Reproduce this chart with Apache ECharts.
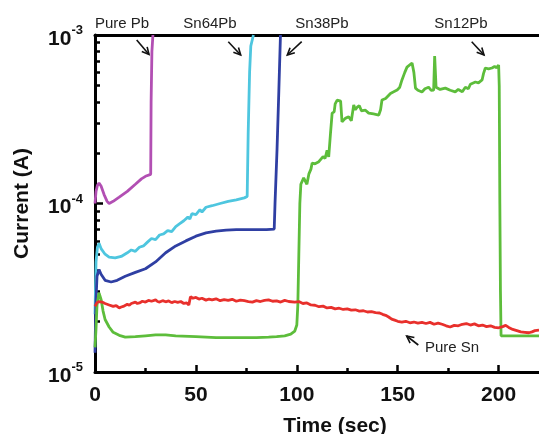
<!DOCTYPE html>
<html>
<head>
<meta charset="utf-8">
<script src="https://cdn.jsdelivr.net/npm/echarts@6/dist/echarts.min.js"></script>
<style>
html,body{margin:0;padding:0;background:#fff;}
#chart{width:539px;height:434px;}
</style>
</head>
<body>
<div id="chart"></div>
<script>
// ---- data: [time (sec), current (A)] ----
var purePb = [[0,1.0e-4],[0.5,1.18e-4],[1.2,1.28e-4],[2,1.32e-4],[3,1.27e-4],[4.5,1.13e-4],[6,1.03e-4],[7,1.0e-4],[9,1.03e-4],[12,1.09e-4],[16,1.18e-4],[20,1.30e-4],[23,1.40e-4],[25,1.45e-4],[27.6,1.49e-4],[27.8,4e-4],[28.2,8e-4],[28.7,1e-3]];

var sn64Pb = [[0,2.2e-5],[0.5,4.5e-5],[1.2,5.5e-5],[2,5.8e-5],[3,5.4e-5],[5,5.0e-5],[7,4.8e-5],[10,4.75e-5],[13,4.85e-5],[16,5.1e-5],[18,5.3e-5],[20,5.2e-5],[22,5.5e-5],[24,5.6e-5],[26,5.9e-5],[28,6.2e-5],[30,6.1e-5],[32,6.5e-5],[34,6.6e-5],[36,6.9e-5],[38,6.8e-5],[40,7.3e-5],[42,7.6e-5],[44,7.9e-5],[46,8.3e-5],[47,8.1e-5],[48,8.7e-5],[50,8.6e-5],[52,9.2e-5],[53,8.9e-5],[55,9.5e-5],[58,9.7e-5],[62,1.0e-4],[66,1.03e-4],[70,1.05e-4],[74,1.08e-4],[75.4,1.1e-4],[75.9,2.6e-4],[76.6,6e-4],[77.2,8.6e-4],[78.5,1e-3]];

var sn38Pb = [[0,1.3e-5],[0.4,2.5e-5],[1,3.7e-5],[2,4.05e-5],[3,3.8e-5],[5,3.5e-5],[8,3.42e-5],[11,3.5e-5],[15,3.7e-5],[20,3.9e-5],[25,4.1e-5],[30,4.5e-5],[35,5.1e-5],[40,5.6e-5],[45,6.0e-5],[50,6.4e-5],[55,6.7e-5],[60,6.85e-5],[65,6.95e-5],[70,7.0e-5],[75,7.0e-5],[80,7.0e-5],[85,7.0e-5],[88.8,7.05e-5],[89.2,1e-4],[90.2,2.1e-4],[91.1,4.7e-4],[91.9,1e-3]];

var sn12Pb = [[0,1.4e-5],[0.5,1.8e-5],[1,2.5e-5],[2,2.95e-5],[3,2.7e-5],[4,2.3e-5],[5,2.05e-5],[7,1.85e-5],[9,1.72e-5],[12,1.65e-5],[15,1.61e-5],[20,1.62e-5],[25,1.64e-5],[30,1.66e-5],[35,1.66e-5],[40,1.64e-5],[50,1.62e-5],[60,1.6e-5],[70,1.6e-5],[80,1.6e-5],[86,1.61e-5],[90,1.62e-5],[94,1.64e-5],[97,1.68e-5],[99,1.75e-5],[100,1.9e-5],[100.5,2.5e-5],[101,5e-5],[101.5,1e-4],[102,1.3e-4],[102.6,1.35e-4],[103.4,1.42e-4],[105,1.3e-4],[106,1.5e-4],[107,1.6e-4],[107.6,1.74e-4],[109,1.72e-4],[110.9,1.77e-4],[113,1.9e-4],[114,1.85e-4],[115,2.07e-4],[115.8,1.89e-4],[116.7,2.62e-4],[117.5,3.44e-4],[118.5,3.5e-4],[119,3.9e-4],[120,4.11e-4],[121.7,4.05e-4],[122.4,3.05e-4],[124,3.2e-4],[125.7,3.27e-4],[127,3.1e-4],[128.2,3.85e-4],[129,3.6e-4],[130,3.74e-4],[131,3.8e-4],[132,3.55e-4],[134,3.58e-4],[135.6,3.44e-4],[138,3.4e-4],[140.6,3.35e-4],[141.5,3.6e-4],[142.2,4.11e-4],[144,4.2e-4],[146.4,4.5e-4],[148,4.6e-4],[149.7,4.71e-4],[151,4.9e-4],[152.1,5.41e-4],[153.5,6.0e-4],[154.6,6.45e-4],[155.5,6.6e-4],[157.1,6.82e-4],[158,6.0e-4],[158.8,4.84e-4],[160,4.7e-4],[162,4.59e-4],[163.5,4.8e-4],[165.3,4.9e-4],[166.5,4.7e-4],[167.8,4.71e-4],[168.3,7.5e-4],[168.6,7.4e-4],[169,4.9e-4],[171,4.75e-4],[173.6,4.84e-4],[176,4.7e-4],[178.5,4.6e-4],[180,4.75e-4],[182,4.6e-4],[183.5,4.9e-4],[185,4.8e-4],[186,5.1e-4],[188.5,5.26e-4],[190,5.2e-4],[191.8,5.41e-4],[192.5,5.9e-4],[193.4,6.37e-4],[195,6.3e-4],[196.7,6.37e-4],[198,6.5e-4],[199,6.4e-4],[200,6.64e-4],[200.3,5e-4],[200.6,1e-4],[200.9,3e-5],[201.2,1.64e-5],[210,1.64e-5],[220,1.64e-5]];

var pureSn = [[0,2.45e-5],[1,2.58e-5],[2,2.62e-5],[3.5,2.6e-5],[5,2.55e-5],[7,2.5e-5],[9,2.45e-5],[10.5,2.48e-5],[12,2.4e-5],[13,2.43e-5],[14,2.45e-5],[16,2.52e-5],[17,2.49e-5],[18,2.55e-5],[20,2.6e-5],[21,2.55e-5],[22,2.57e-5],[23.5,2.63e-5],[25,2.6e-5],[26.5,2.66e-5],[28,2.63e-5],[30,2.68e-5],[31,2.62e-5],[32,2.6e-5],[33.5,2.65e-5],[35,2.61e-5],[36.5,2.64e-5],[38,2.58e-5],[39.5,2.62e-5],[41,2.59e-5],[42.5,2.62e-5],[44,2.55e-5],[45.5,2.57e-5],[46.5,2.5e-5],[47.3,2.8e-5],[48.5,2.74e-5],[50,2.77e-5],[51.5,2.71e-5],[53,2.74e-5],[55,2.67e-5],[56.5,2.71e-5],[58,2.68e-5],[60,2.72e-5],[62,2.65e-5],[64,2.69e-5],[66,2.66e-5],[68,2.7e-5],[70,2.63e-5],[72,2.67e-5],[74,2.65e-5],[76,2.62e-5],[78,2.6e-5],[80,2.65e-5],[82,2.62e-5],[84,2.66e-5],[86,2.68e-5],[88,2.63e-5],[90,2.64e-5],[92,2.6e-5],[94,2.66e-5],[96,2.62e-5],[99,2.6e-5],[101,2.62e-5],[103,2.55e-5],[105,2.57e-5],[107,2.5e-5],[109,2.49e-5],[111,2.44e-5],[113,2.46e-5],[115,2.4e-5],[117,2.42e-5],[119,2.37e-5],[121,2.39e-5],[123,2.35e-5],[125,2.37e-5],[127,2.33e-5],[129,2.34e-5],[131,2.3e-5],[133,2.31e-5],[135,2.27e-5],[137,2.28e-5],[139,2.25e-5],[141,2.24e-5],[142.5,2.2e-5],[144,2.17e-5],[145.5,2.12e-5],[147,2.06e-5],[148.5,2.03e-5],[150,2.0e-5],[152,1.98e-5],[154,2.0e-5],[156,1.96e-5],[158,1.98e-5],[160,1.95e-5],[162,1.97e-5],[164,1.94e-5],[166,1.97e-5],[168,1.92e-5],[170,1.95e-5],[172,1.92e-5],[174,1.88e-5],[176,1.85e-5],[178,1.89e-5],[180,1.88e-5],[182,1.92e-5],[184,1.94e-5],[186,1.9e-5],[188,1.93e-5],[190,1.88e-5],[192,1.9e-5],[194,1.86e-5],[196,1.88e-5],[198,1.84e-5],[200,1.83e-5],[202,1.86e-5],[203.5,1.89e-5],[205,1.84e-5],[207,1.79e-5],[209,1.76e-5],[211,1.73e-5],[213,1.72e-5],[215,1.71e-5],[216.5,1.73e-5],[218,1.76e-5],[220,1.77e-5]];

var xMajorTicks = [0, 50, 100, 150, 200];
var xMinorTicks = [25, 75, 125, 175];
var yMinorTicks = [2e-5,3e-5,4e-5,5e-5,6e-5,7e-5,8e-5,9e-5,2e-4,3e-4,4e-4,5e-4,6e-4,7e-4,8e-4,9e-4];

var FONT = '"Liberation Sans", Arial, sans-serif';

function arrow(x1, y1, x2, y2) {
  var dx = x2 - x1, dy = y2 - y1, L = Math.sqrt(dx*dx + dy*dy);
  var ux = dx / L, uy = dy / L, h = 7, w = 3.5;
  var bx = x2 - ux*h, by = y2 - uy*h;
  return [
    { type: 'line', shape: { x1: x1, y1: y1, x2: x2, y2: y2 }, style: { stroke: '#111', lineWidth: 1.6 } },
    { type: 'polyline', shape: { points: [[bx - uy*w, by + ux*w], [x2, y2], [bx + uy*w, by - ux*w]] }, style: { stroke: '#111', lineWidth: 1.6, fill: null } }
  ];
}
function label(text, cx, cy) {
  return { type: 'text', x: cx, y: cy, style: { text: text, font: '15px ' + FONT, fill: '#222', align: 'center', verticalAlign: 'middle' } };
}

var graphics = [].concat(
  [label('Pure Pb', 122, 24), label('Sn64Pb', 210, 24), label('Sn38Pb', 322, 24), label('Sn12Pb', 461, 24), label('Pure Sn', 452, 348)],
  arrow(136.7, 40, 149, 54.5),
  arrow(228.3, 41.7, 240.7, 55),
  arrow(301.7, 41.7, 287.3, 55),
  arrow(471.7, 41.7, 484, 55),
  arrow(418.3, 345, 406.7, 336)
);

function line(name, data, color, z) {
  return { name: name, type: 'line', data: data, showSymbol: false, symbol: 'none', z: z,
    lineStyle: { color: color, width: 2.8 }, itemStyle: { color: color }, animation: false };
}

var chart = echarts.init(document.getElementById('chart'), null, { renderer: 'canvas' });
chart.setOption({
  animation: false,
  backgroundColor: '#fff',
  grid: { left: 95, right: 0, top: 35, bottom: 62, containLabel: false, outerBoundsMode: 'none' },
  xAxis: [
    { type: 'value', min: 0, max: 220, position: 'bottom', name: 'Time (sec)', nameLocation: 'middle', nameGap: 44,
      nameTextStyle: { fontFamily: FONT, fontWeight: 'bold', fontSize: 21, color: '#111', padding: [0, 0, 0, 36] },
      axisLine: { show: true, lineStyle: { color: '#000', width: 3 } },
      axisTick: { show: true, inside: true, length: 7, lineStyle: { color: '#000', width: 2.5 }, customValues: xMajorTicks },
      axisLabel: { show: true, margin: 13, fontFamily: FONT, fontWeight: 'bold', fontSize: 21, color: '#111', customValues: xMajorTicks },
      splitLine: { show: false } },
    { type: 'value', min: 0, max: 220, position: 'bottom',
      axisLine: { show: false },
      axisTick: { show: true, inside: true, length: 4, lineStyle: { color: '#000', width: 2.5 }, customValues: xMinorTicks },
      axisLabel: { show: false }, splitLine: { show: false } },
    { type: 'value', min: 0, max: 220, position: 'top',
      axisLine: { show: true, lineStyle: { color: '#000', width: 3 } },
      axisTick: { show: false }, axisLabel: { show: false }, splitLine: { show: false } }
  ],
  yAxis: [
    { type: 'log', logBase: 10, min: 1e-5, max: 1e-3, position: 'left', name: 'Current (A)', nameLocation: 'middle', nameGap: 62,
      nameTextStyle: { fontFamily: FONT, fontWeight: 'bold', fontSize: 21, color: '#111' },
      axisLine: { show: true, lineStyle: { color: '#000', width: 3 } },
      axisTick: { show: true, inside: true, length: 8, lineStyle: { color: '#000', width: 2.5 } },
      axisLabel: { margin: 12,
        formatter: function (v) { var e = Math.round(Math.log10(v)); return '{b|10}{s|' + e + '}'; },
        rich: {
          b: { fontFamily: FONT, fontWeight: 'bold', fontSize: 21, color: '#111', lineHeight: 22, padding: [8, 0, 0, 0] },
          s: { fontFamily: FONT, fontWeight: 'bold', fontSize: 13, color: '#111', lineHeight: 13, verticalAlign: 'top' }
        } },
      splitLine: { show: false }, minorTick: { show: false } },
    { type: 'log', logBase: 10, min: 1e-5, max: 1e-3, position: 'left',
      axisLine: { show: false },
      axisTick: { show: true, inside: true, length: 5, lineStyle: { color: '#000', width: 2.5 }, customValues: yMinorTicks },
      axisLabel: { show: false }, splitLine: { show: false } }
  ],
  series: [
    line('Pure Pb', purePb, '#b24fb3', 3),
    line('Sn64Pb', sn64Pb, '#4ec6df', 3),
    line('Sn38Pb', sn38Pb, '#2f3fa3', 3),
    line('Sn12Pb', sn12Pb, '#5dbd3b', 3),
    line('Pure Sn', pureSn, '#e8302c', 4)
  ],
  graphic: graphics
});
</script>
</body>
</html>
